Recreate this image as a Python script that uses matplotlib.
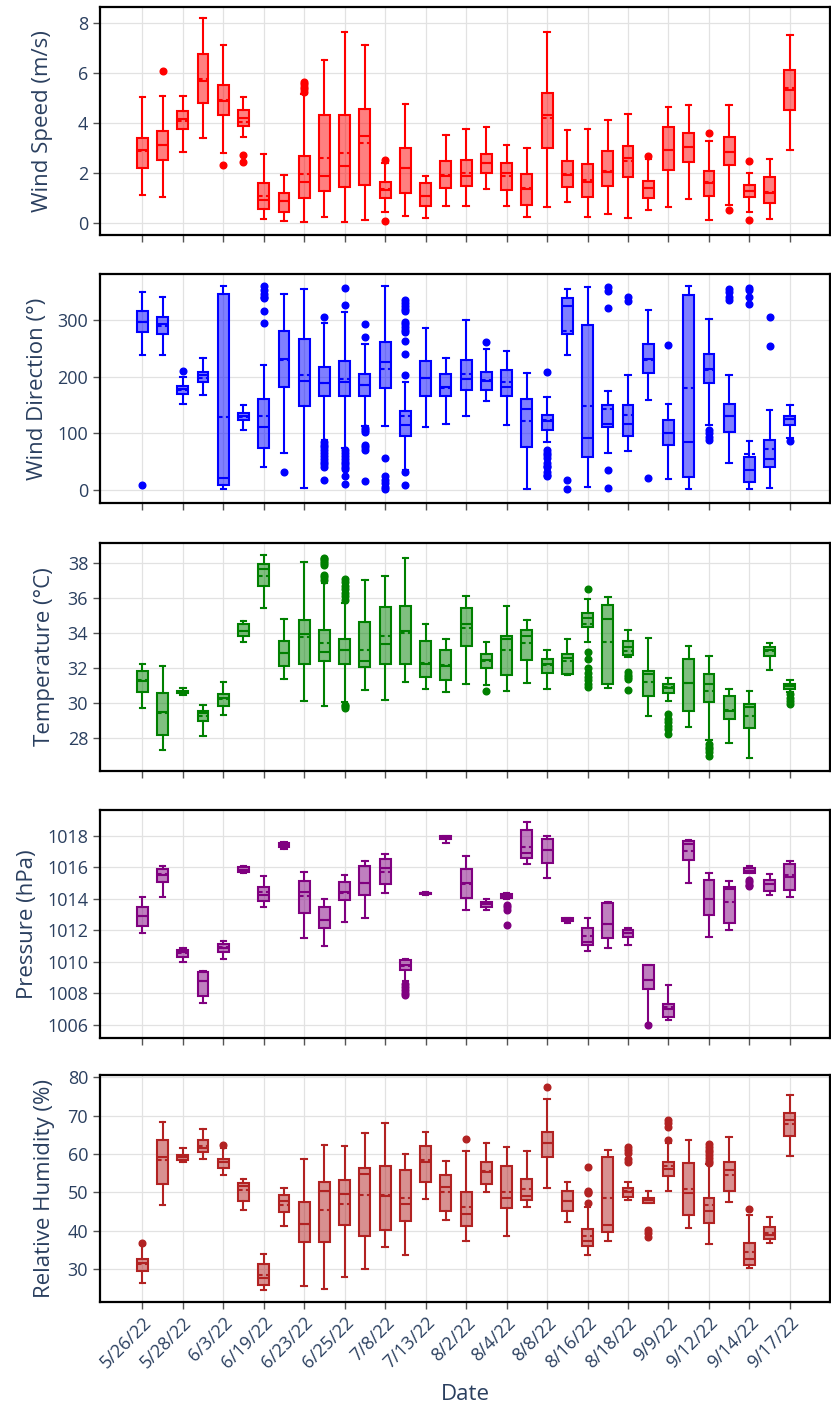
import matplotlib
matplotlib.use("Agg")
import matplotlib.pyplot as plt
from matplotlib.colors import to_rgba

# ---------------- data ----------------
tick_labels = ["5/26/22", "5/28/22", "6/3/22", "6/19/22", "6/23/22", "6/25/22",
               "7/8/22", "7/13/22", "8/2/22", "8/4/22", "8/8/22", "8/16/22",
               "8/18/22", "9/9/22", "9/12/22", "9/14/22", "9/17/22"]
n_days = 33  # one box per sampling day, labels shown on every other day

# Wind speed (m/s): whislo, q1, median, mean, q3, whishi
ws_lo = [1.12, 1.03, 2.84, 3.40, 2.81, 3.43, 0.15, 0.09, 0.04, 0.25, 0.04, 0.12, 0.43, 0.28, 0.19, 0.67, 0.67,
         1.35, 0.69, 0.23, 0.63, 0.84, 0.24, 0.35, 0.20, 0.51, 0.63, 0.97, 0.11, 0.72, 0.44, 0.15, 2.92]
ws_q1 = [2.21, 2.52, 3.75, 4.79, 4.31, 3.87, 0.57, 0.43, 0.99, 1.27, 1.43, 1.53, 1.00, 1.19, 0.69, 1.40, 1.49,
         2.00, 1.31, 0.71, 3.01, 1.43, 1.04, 1.49, 1.83, 0.99, 2.11, 2.45, 1.09, 2.32, 1.04, 0.79, 4.51]
ws_med = [2.93, 3.12, 4.15, 5.69, 4.87, 4.19, 0.92, 0.87, 1.65, 1.88, 2.29, 3.49, 1.32, 2.19, 1.09, 1.88, 1.88,
          2.40, 2.00, 1.36, 4.33, 1.92, 1.63, 2.03, 2.61, 1.39, 2.93, 3.05, 1.59, 2.83, 1.28, 1.20, 5.33]
ws_mean = [2.90, 3.13, 4.10, 5.75, 4.90, 4.05, 1.09, 0.87, 1.95, 2.59, 2.79, 3.19, 1.35, 2.21, 1.09, 1.93, 2.01,
           2.40, 1.88, 1.39, 4.20, 1.95, 1.72, 2.08, 2.47, 1.39, 2.93, 3.05, 1.64, 2.83, 1.28, 1.25, 5.39]
ws_q3 = [3.41, 3.69, 4.48, 6.76, 5.52, 4.53, 1.60, 1.20, 2.67, 4.32, 4.33, 4.57, 1.63, 2.99, 1.61, 2.48, 2.53,
         2.76, 2.40, 1.97, 5.21, 2.48, 2.36, 2.88, 3.07, 1.67, 3.84, 3.61, 2.09, 3.44, 1.53, 1.84, 6.12]
ws_hi = [5.05, 5.09, 5.07, 8.19, 7.13, 5.03, 2.75, 1.93, 5.16, 6.52, 7.64, 7.11, 2.40, 4.75, 1.88, 3.51, 3.77,
         3.84, 3.11, 3.00, 7.63, 3.73, 3.77, 4.11, 4.37, 2.56, 4.63, 4.72, 3.28, 4.72, 2.01, 2.57, 7.52]
ws_out = [[], [6.07], [], [], [2.33], [2.73, 2.43], [], [], [5.25, 5.35, 5.45, 5.55, 5.65], [], [], [],
          [2.52, 0.09], [], [], [], [], [], [], [], [], [], [], [], [], [2.67], [], [], [3.59], [0.53],
          [2.48, 0.12], [], []]

# Wind direction (deg)
wd_lo = [238, 238, 151, 168, 2, 105, 41, 66, 4, 88, 74, 112, 113, 35, 111, 116, 131,
         157, 115, 2, 85, 238, 6, 66, 69, 159, 19, 1, 115, 48, 1, 3, 91]
wd_q1 = [279, 275, 169, 190, 9, 124, 74, 182, 148, 165, 165, 165, 179, 96, 166, 165, 177,
         176, 166, 76, 106, 275, 59, 111, 96, 207, 80, 23, 188, 103, 14, 40, 114]
wd_med = [297, 292, 178, 203, 21, 131, 111, 231, 192, 189, 191, 185, 226, 114, 198, 182, 196,
          192, 182, 143, 122, 325, 92, 117, 116, 231, 101, 85, 214, 131, 36, 54, 125]
wd_mean = [296, 290, 176, 197, 128, 129, 131, 229, 202, 189, 195, 185, 214, 131, 198, 180, 205,
           194, 190, 122, 123, 281, 148, 142, 132, 229, 100, 180, 212, 131, 64, 72, 125]
wd_q3 = [316, 306, 184, 208, 345, 136, 161, 281, 266, 217, 228, 204, 261, 139, 228, 205, 230,
         208, 211, 161, 132, 339, 291, 150, 150, 257, 124, 344, 239, 152, 58, 89, 131]
wd_hi = [349, 341, 200, 232, 359, 150, 221, 346, 355, 294, 314, 258, 359, 190, 286, 233, 300,
         248, 245, 206, 164, 355, 358, 175, 203, 318, 151, 359, 301, 203, 86, 141, 150]
wd_out = [[8], [], [210], [], [], [], [294, 316, 338, 341, 345, 353, 359], [32], [],
          [305, 85, 80, 75, 70, 65, 60, 55, 50, 45, 41, 18],
          [357, 326, 71, 65, 60, 55, 50, 45, 40, 37, 25, 11],
          [292, 269, 110, 106, 103, 79, 75, 71, 16],
          [56, 25, 18, 12, 6, 2],
          [336, 330, 325, 320, 315, 297, 292, 287, 283, 279, 263, 239, 202, 32, 9],
          [], [], [], [261], [], [],
          [208, 71, 66, 61, 56, 47, 43, 40, 31, 27, 24],
          [18, 2], [], [358, 351, 321, 36, 4], [341, 334], [21], [256], [],
          [106, 100, 94, 88], [355, 350, 340, 335], [357, 352, 340, 328], [306, 254], [87]]

# Temperature (deg C)
tp_lo = [29.71, 27.32, 30.45, 28.11, 29.31, 33.51, 35.40, 31.38, 30.11, 29.82, 30.03, 30.72, 30.18, 31.21, 30.77,
         30.60, 31.06, 31.02, 30.70, 31.13, 30.79, 31.59, 33.51, 30.85, 32.63, 29.25, 30.13, 28.65, 27.87, 27.72,
         26.86, 31.91, 30.60]
tp_q1 = [30.64, 28.19, 30.55, 28.95, 29.84, 33.85, 36.68, 32.12, 32.21, 32.39, 32.21, 32.03, 32.20, 32.25, 31.49,
         31.32, 33.26, 31.99, 31.59, 32.44, 31.70, 31.66, 34.34, 31.06, 32.73, 30.37, 30.56, 29.52, 30.07, 29.08,
         28.57, 32.69, 30.77]
tp_med = [31.27, 29.48, 30.60, 29.42, 30.28, 34.11, 37.63, 32.88, 33.96, 32.92, 33.01, 32.37, 33.39, 34.11, 32.20,
          32.12, 34.53, 32.44, 33.64, 33.83, 32.25, 32.54, 34.85, 34.78, 33.22, 31.66, 30.83, 31.13, 31.11, 29.52,
          29.75, 33.01, 30.98]
tp_mean = [31.30, 29.42, 30.62, 29.23, 30.20, 34.11, 37.28, 32.88, 33.79, 33.41, 33.01, 33.05, 33.83, 34.02, 32.27,
           32.16, 34.27, 32.38, 33.03, 33.41, 32.19, 32.40, 34.53, 33.51, 32.99, 31.17, 30.90, 31.13, 30.68, 29.61,
           29.25, 32.96, 30.95]
tp_q3 = [31.82, 30.58, 30.68, 29.56, 30.51, 34.49, 37.93, 33.56, 34.72, 34.19, 33.68, 34.63, 35.50, 35.52, 33.53,
         33.05, 35.44, 32.80, 33.83, 34.17, 32.52, 32.80, 35.12, 35.59, 33.54, 31.82, 31.11, 32.52, 31.66, 30.41,
         29.94, 33.22, 31.06]
tp_hi = [32.21, 32.10, 30.85, 29.90, 31.21, 34.70, 38.48, 34.80, 38.04, 36.87, 35.73, 37.04, 37.25, 38.29, 34.49,
         33.68, 36.09, 33.49, 35.56, 34.72, 33.01, 33.68, 35.96, 36.05, 34.15, 33.70, 31.40, 33.26, 32.69, 30.77,
         30.66, 33.41, 31.30]
tp_out = [[], [], [], [], [], [], [], [], [],
          [38.3, 38.2, 38.1, 38.0, 37.9, 37.3, 37.2, 37.0],
          [37.1, 36.9, 36.7, 36.5, 36.3, 36.1, 35.9, 29.9, 29.8, 29.7],
          [], [], [], [], [], [], [30.70], [], [], [], [],
          [36.49, 32.9, 32.5, 32.0, 31.7, 31.5, 31.3, 31.1, 30.9], [],
          [31.74, 31.6, 31.5, 31.36, 30.75], [],
          [29.37, 29.1, 28.9, 28.7, 28.5, 28.23], [],
          [27.66, 27.5, 27.35, 27.2, 26.99], [], [], [],
          [30.5, 30.3, 30.1, 29.94]]

# Pressure (hPa)
pr_lo = [1011.85, 1014.11, 1009.99, 1007.39, 1010.20, 1015.68, 1013.48, 1017.18, 1011.51, 1011.01, 1012.53,
         1012.80, 1014.35, 1008.81, 1014.24, 1017.58, 1013.29, 1013.31, 1014.01, 1016.20, 1015.32, 1012.45,
         1010.71, 1010.88, 1011.07, 1006.06, 1006.30, 1015.00, 1011.58, 1012.02, 1015.64, 1014.24, 1014.11]
pr_q1 = [1012.27, 1015.09, 1010.29, 1007.86, 1010.61, 1015.70, 1013.84, 1017.32, 1013.12, 1012.13, 1013.94,
         1014.22, 1014.98, 1009.51, 1014.30, 1017.79, 1014.05, 1013.52, 1014.03, 1016.63, 1016.29, 1012.63,
         1011.07, 1011.49, 1011.60, 1008.30, 1006.51, 1016.48, 1013.01, 1012.49, 1015.66, 1014.51, 1014.60]
pr_med = [1012.93, 1015.51, 1010.60, 1008.81, 1010.88, 1015.85, 1014.26, 1017.45, 1014.47, 1012.68, 1014.47,
          1015.04, 1015.99, 1009.78, 1014.37, 1017.92, 1015.00, 1013.67, 1014.20, 1016.90, 1017.11, 1012.68,
          1011.26, 1012.42, 1011.85, 1008.87, 1007.01, 1017.49, 1013.97, 1014.62, 1015.80, 1014.92, 1015.38]
pr_mean = [1012.93, 1015.59, 1010.56, 1008.81, 1010.92, 1015.81, 1014.47, 1017.45, 1014.16, 1012.68, 1014.39,
           1015.04, 1015.74, 1009.76, 1014.37, 1017.92, 1014.96, 1013.67, 1014.16, 1017.32, 1017.11, 1012.70,
           1011.66, 1012.42, 1011.81, 1008.87, 1007.14, 1017.07, 1013.97, 1013.82, 1015.80, 1014.92, 1015.51]
pr_q3 = [1013.52, 1015.93, 1010.77, 1009.36, 1011.13, 1016.01, 1014.79, 1017.56, 1015.11, 1013.46, 1015.09,
         1016.12, 1016.54, 1010.10, 1014.41, 1018.00, 1015.89, 1013.82, 1014.30, 1018.40, 1017.81, 1012.78,
         1012.13, 1013.73, 1012.00, 1009.78, 1007.33, 1017.70, 1015.21, 1014.75, 1015.95, 1015.19, 1016.20]
pr_hi = [1014.13, 1016.12, 1010.90, 1009.44, 1011.32, 1016.12, 1015.47, 1017.62, 1015.72, 1014.01, 1015.51,
         1016.44, 1016.86, 1010.16, 1014.43, 1018.02, 1016.71, 1013.99, 1014.41, 1018.91, 1018.02, 1012.80,
         1012.80, 1013.78, 1012.17, 1009.82, 1008.51, 1017.77, 1015.66, 1015.11, 1016.08, 1015.61, 1016.42]
pr_out = [[], [], [], [], [], [], [], [], [], [], [], [], [],
          [1008.6, 1008.4, 1008.2, 1008.0, 1007.88], [], [], [], [],
          [1013.63, 1013.5, 1013.31, 1012.34], [], [], [], [], [], [],
          [1006.02], [], [], [], [], [1015.2, 1015.05, 1014.9, 1014.83], [], []]

# Relative humidity (%)
rh_lo = [26.34, 46.64, 57.80, 58.67, 54.49, 45.51, 24.60, 41.15, 25.64, 24.77, 27.91, 30.00, 35.75, 33.57, 48.39,
         42.72, 37.23, 50.13, 38.71, 46.12, 51.26, 42.29, 33.75, 37.23, 48.13, 47.10, 50.31, 40.63, 36.62, 47.43,
         30.35, 36.88, 59.54]
rh_q1 = [29.39, 52.05, 58.50, 60.41, 56.32, 47.78, 25.82, 44.81, 37.15, 37.15, 41.50, 38.71, 40.20, 42.46, 52.75,
         45.08, 41.33, 52.14, 45.95, 47.95, 59.28, 45.25, 36.10, 39.76, 48.82, 47.34, 54.14, 44.20, 42.03, 50.31,
         31.13, 37.76, 64.77]
rh_med = [31.57, 59.11, 59.28, 61.46, 57.80, 51.53, 27.73, 47.78, 41.76, 50.31, 49.69, 54.84, 49.00, 47.08, 57.97,
          51.44, 44.47, 55.19, 48.56, 49.09, 62.85, 47.86, 37.23, 41.59, 50.13, 48.13, 55.97, 49.87, 45.08, 55.71,
          32.70, 38.98, 68.78]
rh_mean = [31.20, 58.32, 59.10, 62.16, 57.97, 50.65, 28.52, 46.82, 41.70, 45.34, 47.08, 49.43, 49.26, 48.56, 58.41,
           50.13, 46.30, 55.45, 50.13, 51.00, 62.85, 47.86, 38.50, 48.65, 50.30, 47.90, 56.84, 50.74, 46.65, 54.49,
           34.44, 39.50, 67.73]
rh_q3 = [32.53, 63.55, 59.80, 63.55, 58.67, 52.48, 31.22, 49.26, 47.52, 52.57, 53.18, 56.41, 56.84, 55.71, 62.16,
         54.58, 49.96, 57.89, 56.93, 53.36, 65.73, 50.39, 40.37, 59.19, 51.09, 48.65, 57.97, 57.54, 48.65, 57.89,
         36.80, 40.89, 70.78]
rh_hi = [36.19, 68.43, 61.63, 66.43, 61.46, 53.44, 34.01, 51.18, 58.67, 62.42, 62.16, 65.38, 68.08, 59.89, 65.73,
         58.15, 60.76, 62.94, 61.81, 60.68, 74.27, 52.66, 46.12, 61.02, 52.57, 50.31, 62.77, 63.73, 57.28, 64.42,
         44.03, 43.59, 75.40]
rh_out = [[36.8], [], [], [], [62.33], [], [], [], [], [], [], [], [], [], [], [], [63.90], [], [], [],
          [77.49], [], [56.67, 50.3, 50.0, 49.7, 47.34], [], [61.8, 61.0, 60.2, 58.7, 58.0],
          [40.2, 39.3, 38.37], [63.55, 67.12, 68.0, 68.87], [],
          [57.6, 58.3, 59.0, 59.7, 60.4, 61.1, 61.8, 62.5], [], [45.60], [], []]

# ---------------- styling ----------------
FONT = ["Open Sans", "DejaVu Sans"]
plt.rcParams["font.family"] = FONT
TXT = "#2a3f5f"
W, H = 831, 1416
fig = plt.figure(figsize=(W / 100, H / 100), dpi=100)

panels = [
    dict(lo=ws_lo, q1=ws_q1, med=ws_med, mean=ws_mean, q3=ws_q3, hi=ws_hi, out=ws_out,
         color="#ff0000", label="Wind Speed (m/s)", ylim=(-0.48, 8.64), yticks=[0, 2, 4, 6, 8],
         top=7, bottom=235, lx=43),
    dict(lo=wd_lo, q1=wd_q1, med=wd_med, mean=wd_mean, q3=wd_q3, hi=wd_hi, out=wd_out,
         color="#0000ff", label="Wind Direction (°)", ylim=(-23, 381), yticks=[0, 100, 200, 300],
         top=274, bottom=503, lx=38),
    dict(lo=tp_lo, q1=tp_q1, med=tp_med, mean=tp_mean, q3=tp_q3, hi=tp_hi, out=tp_out,
         color="#008000", label="Temperature (°C)", ylim=(26.11, 39.14), yticks=[28, 30, 32, 34, 36, 38],
         top=543, bottom=771, lx=45),
    dict(lo=pr_lo, q1=pr_q1, med=pr_med, mean=pr_mean, q3=pr_q3, hi=pr_hi, out=pr_out,
         color="#800080", label="Pressure (hPa)", ylim=(1005.17, 1019.65),
         yticks=[1006, 1008, 1010, 1012, 1014, 1016, 1018], top=810, bottom=1038, lx=28),
    dict(lo=rh_lo, q1=rh_q1, med=rh_med, mean=rh_mean, q3=rh_q3, hi=rh_hi, out=rh_out,
         color="#b22222", label="Relative Humidity (%)", ylim=(21.4, 80.6), yticks=[30, 40, 50, 60, 70, 80],
         top=1075, bottom=1302, lx=45),
]

LEFT, RIGHT = 100, 830
positions = list(range(n_days))
tick_pos = positions[::2]
LW = 1.5

for k, p in enumerate(panels):
    rect = [LEFT / W, 1 - p["bottom"] / H, (RIGHT - LEFT) / W, (p["bottom"] - p["top"]) / H]
    ax = fig.add_axes(rect)
    stats = []
    for i in range(n_days):
        stats.append(dict(whislo=p["lo"][i], q1=p["q1"][i], med=p["med"][i], mean=p["mean"][i],
                          q3=p["q3"][i], whishi=p["hi"][i], fliers=p["out"][i]))
    c = p["color"]
    ax.bxp(stats, positions=positions, widths=0.54, capwidths=0.27, patch_artist=True,
           showmeans=True, meanline=True, manage_ticks=False,
           boxprops=dict(facecolor=to_rgba(c, 0.5), edgecolor=c, linewidth=LW),
           medianprops=dict(color=c, linewidth=LW),
           meanprops=dict(color=c, linewidth=LW, linestyle=(0, (2.2, 1.6))),
           whiskerprops=dict(color=c, linewidth=LW),
           capprops=dict(color=c, linewidth=LW),
           flierprops=dict(marker="o", markersize=4.8, markerfacecolor=c, markeredgecolor=c,
                           linestyle="none"))
    ax.set_xlim(-2.09, 33.98)
    ax.set_ylim(*p["ylim"])
    ax.set_yticks(p["yticks"])
    ax.set_xticks(tick_pos)
    ax.set_axisbelow(True)
    ax.grid(True, color="#e2e2e2", linewidth=0.9)
    for s in ax.spines.values():
        s.set_color("black")
        s.set_linewidth(1.6)
    ax.tick_params(axis="both", direction="out", length=5, width=1, color="#555555",
                   labelcolor=TXT, labelsize=13)
    ax.set_ylabel(p["label"], color=TXT, fontsize=16, va="center")
    ax.yaxis.set_label_coords((p["lx"] - LEFT) / (RIGHT - LEFT), 0.5)
    if k == len(panels) - 1:
        ax.set_xticklabels(tick_labels, rotation=45, ha="right", rotation_mode="anchor")
        ax.set_xlabel("Date", color=TXT, fontsize=16, va="center")
        ax.xaxis.set_label_coords(0.5, (p["bottom"] - 1394) / (p["bottom"] - p["top"]))
    else:
        ax.set_xticklabels([])

fig.savefig("out.png", dpi=100)
